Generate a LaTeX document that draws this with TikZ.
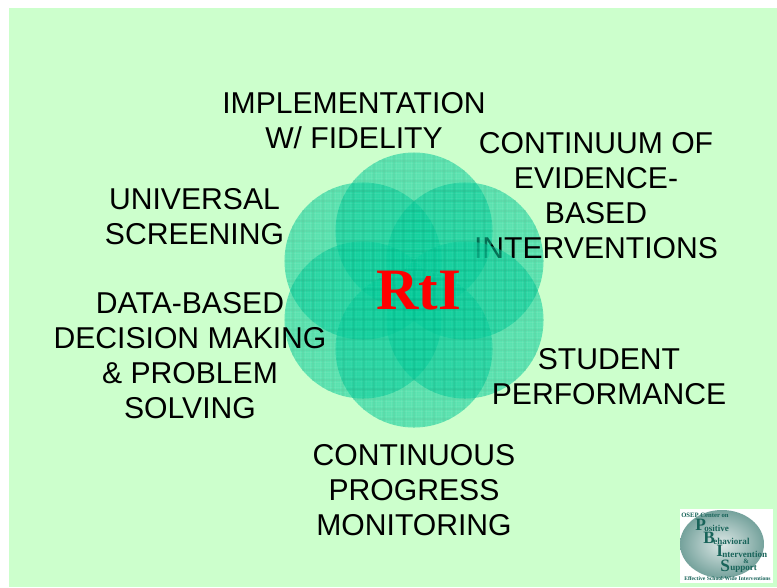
\documentclass[tikz,border=0pt]{standalone}
\usepackage{fontspec}
\setmainfont{Liberation Sans}
\newfontfamily\serifbold{Liberation Serif}
\definecolor{pagegreen}{RGB}{204,255,204}
\definecolor{discfill}{RGB}{0,204,153}
\definecolor{discgrid}{RGB}{0,165,122}
\definecolor{logoteal}{RGB}{25,100,90}
\tikzset{
  lab/.style={align=center,inner sep=0pt,font=\fontsize{22.6pt}{26.3pt}\selectfont,text=black},
  logobig/.style={inner sep=0pt,anchor=west,text=logoteal,font=\fontsize{13pt}{13pt}\selectfont\serifbold\bfseries},
  logosmall/.style={inner sep=0pt,anchor=west,text=logoteal,font=\fontsize{5pt}{6pt}\selectfont\serifbold\bfseries},
  logoword/.style={inner sep=0pt,anchor=west,text=logoteal,font=\fontsize{6.8pt}{7pt}\selectfont\serifbold\bfseries},
}
\newcommand{\disc}[2]{%
  \begin{scope}[transparency group,opacity=.56]
    \fill[discfill] (#1,#2) circle[radius=78.5];
    \begin{scope}
      \clip (#1,#2) circle[radius=78.5];
      \foreach \k in {-32,...,32}{
        \draw[white,opacity=.07,line width=.45pt] (#1+\k*2.5,#2-80) -- (#1+\k*2.5,#2+80);
        \draw[white,opacity=.07,line width=.45pt] (#1-80,#2+\k*2.5) -- (#1+80,#2+\k*2.5);
      }
      \foreach \k in {-8,...,8}{
        \draw[discgrid,line width=.7pt] (#1+\k*10,#2-80) -- (#1+\k*10,#2+80);
        \draw[discgrid,line width=.7pt] (#1-80,#2+\k*10) -- (#1+80,#2+\k*10);
      }
    \end{scope}
  \end{scope}}
\begin{document}
\begin{tikzpicture}[x=.75pt,y=-.75pt]
\useasboundingbox (0,0) rectangle (777,587);
\fill[white] (0,0) rectangle (777,587);
\fill[pagegreen] (9,8) rectangle (777,587);
\disc{465}{261}
\node[lab] (continuum) at (596,196) {CONTINUUM OF\\EVIDENCE-\\BASED\\INTERVENTIONS};
\disc{414}{231}
\disc{363}{261}
\disc{363}{320}
\disc{465}{320}
\disc{414}{349}
\node[lab] (fidelity) at (354,121) {IMPLEMENTATION\\W/ FIDELITY};
\node[lab] (screening) at (194.5,217) {UNIVERSAL\\SCREENING};
\node[lab] (decision) at (190,355.5) {DATA-BASED\\DECISION MAKING\\\& PROBLEM\\SOLVING};
\node[lab] (student) at (609,377) {STUDENT\\PERFORMANCE};
\node[lab] (progress) at (414,490.5) {CONTINUOUS\\PROGRESS\\MONITORING};
\node[inner sep=0pt,text=red,font=\fontsize{44pt}{44pt}\selectfont\serifbold\bfseries] (rti) at (418.5,291) {RtI};
% logo
\fill[white] (680,509) rectangle (773,583);
\shade[inner color=white!85!logoteal,outer color=logoteal!60!white] (722,544) ellipse[x radius=42,y radius=34];
\node[logosmall] (osep) at (681,515.5) {OSEP Center on};
\node[logobig] (p) at (695,525) {P};
\node[logoword] (pt) at (704,528) {ositive};
\node[logobig] (b) at (703,538) {B};
\node[logoword] (bt) at (713,541) {ehavioral};
\node[logobig] (i) at (716,551) {I};
\node[logoword] (it) at (722,554) {ntervention};
\node[logosmall] (amp) at (743,561) {\&};
\node[logobig] (s) at (720,566) {S};
\node[logoword] (st) at (730,568.5) {upport};
\node[logosmall,font=\fontsize{4.2pt}{5pt}\selectfont\serifbold\bfseries] (eff) at (684,578.5) {Effective School-Wide Interventions};
\end{tikzpicture}
\end{document}
